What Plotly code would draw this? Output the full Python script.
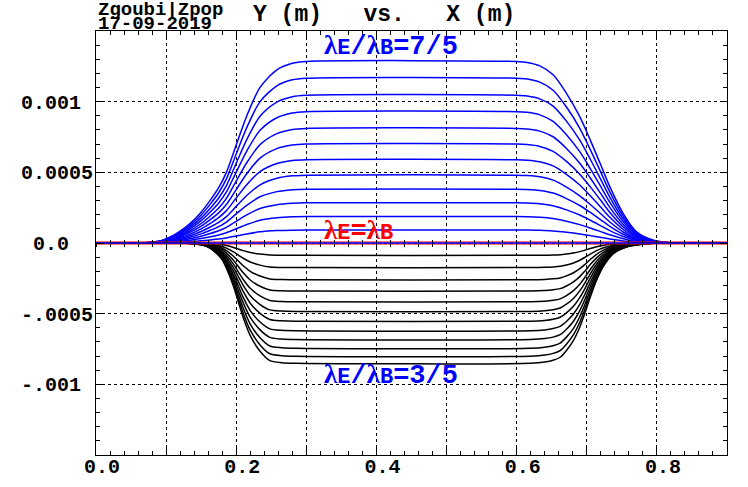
import plotly.graph_objects as go

# ---------------- data ----------------
# normalised trajectory profile for lambda_E/lambda_B > 1 (blue family)
x_blue = [0.0, 0.05, 0.07, 0.082, 0.095, 0.106, 0.12, 0.134, 0.15, 0.163, 0.175,
          0.186, 0.2, 0.215, 0.234, 0.258, 0.28, 0.30, 0.60, 0.615, 0.633, 0.652,
          0.671, 0.690, 0.705, 0.719, 0.733, 0.752, 0.771, 0.795, 0.823, 0.9]
frac_blue = [0.0, 0.0, 0.002, 0.006, 0.016, 0.033, 0.065, 0.107, 0.170, 0.236, 0.305,
             0.389, 0.540, 0.700, 0.858, 0.954, 0.99, 1.0, 1.0, 0.995, 0.976, 0.927,
             0.825, 0.696, 0.567, 0.439, 0.309, 0.162, 0.061, 0.015, 0.0, 0.0]

# normalised trajectory profile for lambda_E/lambda_B < 1 (black family)
x_black = [0.0, 0.12, 0.135, 0.153, 0.163, 0.172, 0.18, 0.186, 0.196, 0.203, 0.210,
           0.22, 0.234, 0.248, 0.265, 0.285, 0.62, 0.64, 0.652, 0.662, 0.671, 0.681,
           0.690, 0.697, 0.705, 0.714, 0.723, 0.738, 0.757, 0.780, 0.80, 0.9]
frac_black = [0.0, 0.0, 0.004, 0.019, 0.045, 0.088, 0.14, 0.21, 0.36, 0.49, 0.62,
              0.77, 0.90, 0.978, 0.995, 1.0, 1.0, 0.99, 0.975, 0.95, 0.894, 0.81,
              0.70, 0.59, 0.45, 0.31, 0.2, 0.088, 0.033, 0.01, 0.0, 0.0]

# plateau deflections Y (m) of each trajectory
blue_amp = [0.001284, 0.001166, 0.001045, 0.000929, 0.000811, 0.000700,
            0.000589, 0.000480, 0.000381, 0.000284, 0.000187, 0.000092]
black_amp = [-0.0000872, -0.000174, -0.000260, -0.000340, -0.000416, -0.000484,
             -0.000553, -0.000621, -0.000683, -0.000745, -0.000801, -0.000851]
red_amp = 0.0

x_tick_vals = [0.0, 0.1, 0.2, 0.3, 0.4, 0.5, 0.6, 0.7, 0.8, 0.9]
x_tick_text = ["0.0", "", "0.2", "", "0.4", "", "0.6", "", "0.8", ""]
y_tick_vals = [-0.0015, -0.001, -0.0005, 0.0, 0.0005, 0.001, 0.0015]
y_tick_text = ["", "-.001\u00a0", "-.0005", "0.0\u00a0\u00a0", "0.0005", "0.001\u00a0", ""]

x_range = [0.0, 0.9]
y_range = [-0.0015, 0.0015]

title_text = "Y (m)\u00a0\u00a0\u00a0vs.\u00a0\u00a0\u00a0X (m)"
corner_line1 = "Zgoubi|Zpop"
corner_line2 = "17-09-2019"

# ---------------- figure ----------------
MONO = "Liberation Mono"
fig = go.Figure()

for a in blue_amp:
    fig.add_trace(go.Scatter(x=x_blue, y=[a * f for f in frac_blue], mode="lines",
                             line=dict(color="#0000ff", width=1.5, shape="spline", smoothing=0.8),
                             showlegend=False, hoverinfo="skip"))
for a in black_amp:
    fig.add_trace(go.Scatter(x=x_black, y=[a * f for f in frac_black], mode="lines",
                             line=dict(color="#000000", width=1.5, shape="spline", smoothing=0.8),
                             showlegend=False, hoverinfo="skip"))

# lambda_E = lambda_B : straight line (red, with blue trajectory on top)
fig.add_trace(go.Scatter(x=x_range, y=[red_amp, red_amp], mode="lines", xaxis="x2",
                         line=dict(color="rgba(255,0,0,0.55)", width=4),
                         showlegend=False, hoverinfo="skip"))
fig.add_trace(go.Scatter(x=x_range, y=[red_amp, red_amp], mode="lines", xaxis="x3",
                         line=dict(color="#0000ff", width=1.5),
                         showlegend=False, hoverinfo="skip"))

axis_font = dict(family=MONO, size=20, color="black", weight="bold")

fig.update_layout(
    width=748, height=487,
    margin=dict(l=96, r=21, t=31, b=32, autoexpand=False),
    paper_bgcolor="white", plot_bgcolor="white",
    xaxis=dict(range=x_range, tickvals=x_tick_vals, ticktext=x_tick_text, automargin=False,
               showgrid=True, gridcolor="black", griddash="dot", gridwidth=1,
               zeroline=False, showline=True, linecolor="black", linewidth=1,
               mirror="ticks", ticks="inside", ticklen=7, tickcolor="black",
               minor=dict(dtick=0.02, tick0=0, ticks="inside", ticklen=4,
                          tickcolor="black", showgrid=False),
               tickfont=axis_font, ticklabelshift=6, ticklabelstandoff=-7),
    xaxis2=dict(range=x_range, overlaying="x", anchor="free", position=0.5, automargin=False,
                showgrid=False, zeroline=False, showline=False, showticklabels=False,
                ticks="outside", ticklen=3, tickcolor="black", dtick=0.02, tick0=0),
    xaxis3=dict(range=x_range, overlaying="x", anchor="free", position=0.5, automargin=False,
                showgrid=False, zeroline=False, showline=False, showticklabels=False,
                ticks="inside", ticklen=3, tickcolor="black", dtick=0.02, tick0=0),
    yaxis=dict(range=y_range, tickvals=y_tick_vals, ticktext=y_tick_text, automargin=False,
               showgrid=True, gridcolor="black", griddash="dot", gridwidth=1,
               zeroline=False, showline=True, linecolor="black", linewidth=1,
               mirror="ticks", ticks="inside", ticklen=7, tickcolor="black",
               minor=dict(dtick=0.0001, tick0=0, ticks="inside", ticklen=4,
                          tickcolor="black", showgrid=False),
               tickfont=axis_font, ticklabelstandoff=-2),
)

lam = '<span style="font-family:Liberation Serif">λ</span>'
def sub(s):
    return '<span style="font-size:22px">' + s + '</span>'

label_font = dict(family=MONO, size=27, weight="bold")
fig.add_annotation(x=0.322, y=0.00127, xref="x", yref="y", xanchor="left", yanchor="bottom",
                   text=lam + sub("E") + "/" + lam + sub("B") + "=7/5", showarrow=False,
                   font=dict(color="#0000ff", **label_font))
fig.add_annotation(x=0.322, y=-0.00004, xref="x", yref="y", xanchor="left", yanchor="bottom",
                   text=lam + sub("E") + "=" + lam + sub("B"), showarrow=False,
                   font=dict(color="#ff0000", **label_font))
fig.add_annotation(x=0.322, y=-0.00106, xref="x", yref="y", xanchor="left", yanchor="bottom",
                   text=lam + sub("E") + "/" + lam + sub("B") + "=3/5", showarrow=False,
                   font=dict(color="#0000ff", **label_font))

fig.add_annotation(x=0.0, y=1.0, xref="paper", yref="paper", xanchor="left", yanchor="bottom",
                   yshift=8, text=corner_line1, showarrow=False,
                   font=dict(family=MONO, size=19, color="black", weight="bold"))
fig.add_annotation(x=0.0, y=1.0, xref="paper", yref="paper", xanchor="left", yanchor="bottom",
                   yshift=-6, text=corner_line2, showarrow=False,
                   font=dict(family=MONO, size=19, color="black", weight="bold"))
fig.add_annotation(x=0.457, y=1.0, xref="paper", yref="paper", xanchor="center", yanchor="bottom",
                   yshift=1, text=title_text, showarrow=False,
                   font=dict(family=MONO, size=23, color="black", weight="bold"))

# remove the default 8px page margin so the figure sits at the window origin
fig.write_html("out.html", config={"displayModeBar": False},
               post_script="document.body.style.margin='0';")
